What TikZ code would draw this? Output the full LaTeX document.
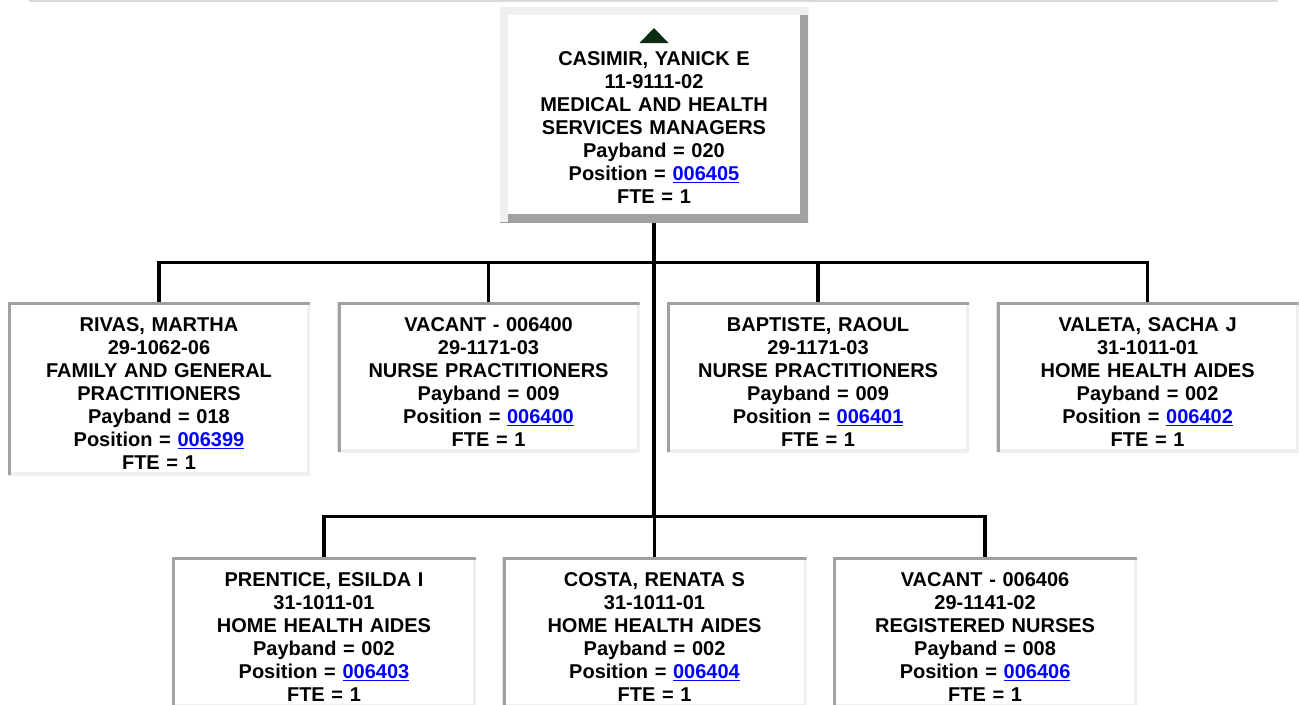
\documentclass[tikz,border=0pt]{standalone}
\usepackage{fontspec}
\setmainfont{Liberation Sans}
\usepackage{xcolor}
\usepackage{tikz}
\usetikzlibrary{positioning,calc}

\definecolor{bevdark}{HTML}{A0A0A0}
\definecolor{bevlight}{HTML}{EFEFEF}
\definecolor{linkblue}{HTML}{0000FF}
\definecolor{upgreen}{HTML}{0B2E12}
\definecolor{ruleline}{HTML}{D9D9D9}

\newcommand{\poslink}[1]{\textcolor{linkblue}{\setbox0\hbox{#1}\rlap{\rule[-2.3pt]{\wd0}{1.3pt}}\box0}}
\newcommand{\firstln}{\rule{0pt}{17.25pt}}

\begin{document}
\begin{tikzpicture}[
  x=0.75pt, y=-0.75pt,
  post/.style={rectangle, fill=white, anchor=north, align=center,
    text width=218.5pt, inner xsep=4pt, inner ysep=4.5pt,
    font=\fontsize{15pt}{17.25pt}\selectfont\bfseries,
    path picture={
      \draw[bevlight, fill=none, line width=4.5pt]
        (path picture bounding box.north east) -- (path picture bounding box.south east)
        -- (path picture bounding box.south west);
      \draw[bevdark, fill=none, line width=4.5pt]
        (path picture bounding box.south west) -- (path picture bounding box.north west)
        -- (path picture bounding box.north east);
    }},
  head/.style={rectangle, fill=white, anchor=north, align=center,
    text width=223pt, inner xsep=4pt, inner ysep=14.25pt,
    font=\fontsize{15pt}{17.25pt}\selectfont\bfseries,
    path picture={
      \draw[bevdark, fill=none, line width=12pt]
        (path picture bounding box.north east) -- (path picture bounding box.south east)
        -- (path picture bounding box.south west);
      \draw[bevlight, fill=none, line width=12pt]
        (path picture bounding box.south west) -- (path picture bounding box.north west)
        -- (path picture bounding box.north east);
    }},
  conn/.style={line width=2.5pt},
]
  \useasboundingbox (0,0) rectangle (1299,704);
  \clip (0,0) rectangle (1299,704);

  \draw[ruleline, line width=1.5pt] (29,1) -- (1278,1);

  \node[head] (boss) at (654,7) {\rule{0pt}{29.25pt}CASIMIR, YANICK E\\ 11-9111-02\\
    MEDICAL AND HEALTH\\ SERVICES MANAGERS\\ Payband = 020\\
    Position = \poslink{006405}\\ FTE = 1};
  \fill[upgreen] ($(boss.north)+(-14.5,36)$) -- ++(29,0) -- ++(-14.5,-15) -- cycle;

  % first row
  \node[post] (rivas) at (159,302) {\firstln RIVAS, MARTHA\\ 29-1062-06\\
    FAMILY AND GENERAL\\ PRACTITIONERS\\ Payband = 018\\
    Position = \poslink{006399}\\ FTE = 1};
  \node[post, right=20.25pt of rivas.north east, anchor=north west] (vacanta)
    {\firstln VACANT - 006400\\ 29-1171-03\\ NURSE PRACTITIONERS\\ Payband = 009\\
    Position = \poslink{006400}\\ FTE = 1};
  \node[post, right=20.25pt of vacanta.north east, anchor=north west] (baptiste)
    {\firstln BAPTISTE, RAOUL\\ 29-1171-03\\ NURSE PRACTITIONERS\\ Payband = 009\\
    Position = \poslink{006401}\\ FTE = 1};
  \node[post, right=20.25pt of baptiste.north east, anchor=north west] (valeta)
    {\firstln VALETA, SACHA J\\ 31-1011-01\\ HOME HEALTH AIDES\\ Payband = 002\\
    Position = \poslink{006402}\\ FTE = 1};

  % second row
  \node[post, text width=220pt] (prentice) at (324,557)
    {\firstln PRENTICE, ESILDA I\\ 31-1011-01\\ HOME HEALTH AIDES\\ Payband = 002\\
    Position = \poslink{006403}\\ FTE = 1};
  \node[post, text width=220pt, right=19.5pt of prentice.north east, anchor=north west] (costa)
    {\firstln COSTA, RENATA S\\ 31-1011-01\\ HOME HEALTH AIDES\\ Payband = 002\\
    Position = \poslink{006404}\\ FTE = 1};
  \node[post, text width=220pt, right=19.5pt of costa.north east, anchor=north west] (vacantb)
    {\firstln VACANT - 006406\\ 29-1141-02\\ REGISTERED NURSES\\ Payband = 008\\
    Position = \poslink{006406}\\ FTE = 1};

  \coordinate (busA) at ($(boss.south)+(0,40)$);
  \coordinate (busB) at ($(busA)+(0,254)$);

  \draw[conn] (boss.south) -- (busB);
  \foreach \n in {rivas,vacanta,baptiste,valeta}
    \draw[conn] (busA) -| (\n.north);
  \foreach \n in {prentice,costa,vacantb}
    \draw[conn] (busB) -| (\n.north);
\end{tikzpicture}
\end{document}
